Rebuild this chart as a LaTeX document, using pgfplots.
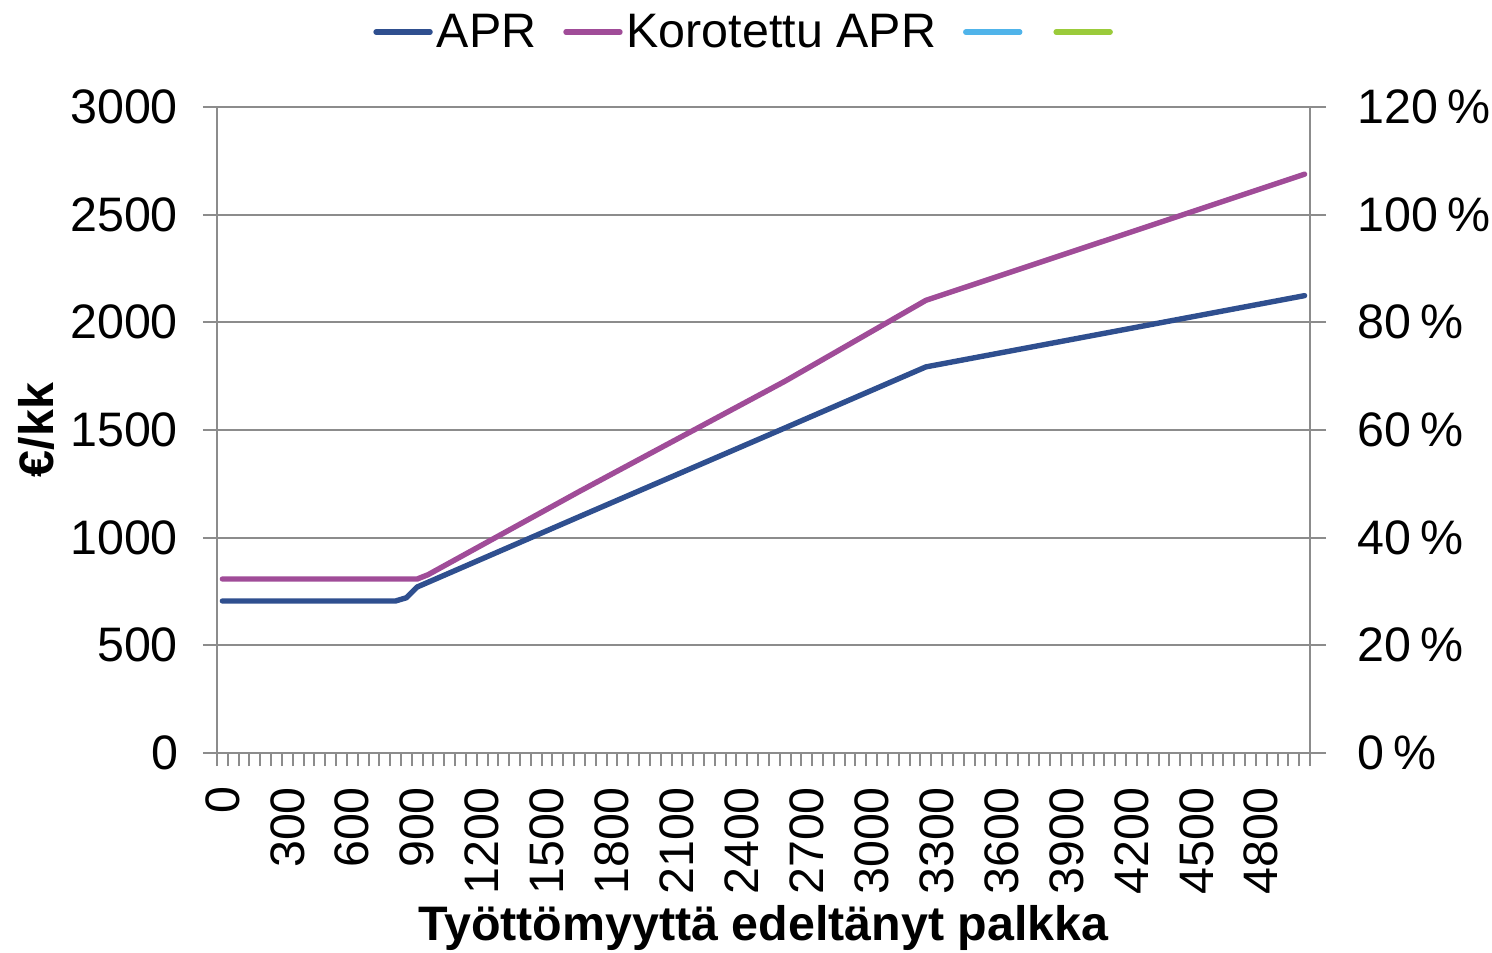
\documentclass[border=0pt]{standalone}
\usepackage{fontspec}
\setmainfont{Liberation Sans}
\usepackage{pgfplots}
\pgfplotsset{compat=1.18}
\definecolor{aprblue}{HTML}{2F4F8F}
\definecolor{korpurple}{HTML}{A04C98}
\definecolor{ltblue}{HTML}{50B4EA}
\definecolor{ltgreen}{HTML}{9BCB3B}
\definecolor{gridgray}{HTML}{8C8C8C}
\newcommand{\chartfont}{\fontsize{24.2}{29}\selectfont}
\newcommand{\pc}[1]{#1\kern0.2em\%}
\pgfplotsset{
  base/.style={scale only axis,width=546.5pt,height=323pt,
    at={(0pt,0pt)},anchor=south west,
    xmin=-25,xmax=5025,tick align=outside,
    axis line style={gridgray,line width=1pt},
    tick label style={font=\chartfont},
    /pgf/number format/assume math mode=true,
    /pgf/number format/1000 sep={}},
  series/.style={line width=2.7pt,line cap=round,line join=round}
}
\begin{document}
\begin{tikzpicture}
% page = 1492 x 952 px at 0.5pt per px, axis box from (217,107) to (1310,753) px
\useasboundingbox (-108.5pt,-99.5pt) rectangle (637.5pt,376.5pt);
\begin{axis}[base,
  ymin=0,ymax=3000,
  xtick={0,300,...,4800},
  minor xtick={-25,25,...,5025},
  major x tick style={draw=none},
  minor x tick style={draw=gridgray,line width=1pt},
  minor tick length=6.5pt,major tick length=7pt,
  xtick pos=bottom,ytick pos=left,
  ytick={0,500,...,3000},
  ytick style={gridgray,line width=1pt},
  ymajorgrids,grid style={gridgray,line width=1pt},
  xticklabel style={rotate=90,anchor=east},
  xticklabel shift=6.5pt,
  yticklabel shift=9pt,
  xlabel={\textbf{Työttömyyttä edeltänyt palkka}},
  xlabel style={font=\chartfont,inner sep=0pt,at={(axis description cs:0.5,-0.291)},anchor=base},
  ylabel={\textbf{€/kk}},
  ylabel style={font=\chartfont,inner sep=0pt,at={(axis description cs:-0.165,0.5)},anchor=center},
  legend style={at={(axis description cs:0.485,1.116)},anchor=center,
    draw=none,fill=none,font=\chartfont,legend columns=4,
    inner sep=0pt,
    nodes={inner xsep=2pt,inner ysep=0pt},
    /tikz/every even column/.append style={column sep=11.5pt},
    /tikz/every odd column/.append style={column sep=0pt}},
  legend image code/.code={\draw[#1,line width=2.7pt,line cap=round] (0pt,0pt) -- (27pt,0pt);},
]
\addplot[series,aprblue] coordinates {
  (0,706) (800,706) (850,721) (900,771) (1650,1098) (2600,1510) (3250,1793) (5000,2124)};
\addlegendentry{APR}
\addplot[series,korpurple] coordinates {
  (0,808) (900,808) (950,828) (1650,1215) (2600,1727) (3250,2102) (5000,2688)};
\addlegendentry{Korotettu APR}
\addlegendimage{ltblue}
\addlegendentry{}
\addlegendimage{ltgreen}
\addlegendentry{}
\end{axis}
\begin{axis}[base,
  ymin=0,ymax=120,
  axis x line=none,axis y line*=right,
  ytick={0,20,...,120},
  yticklabels={\pc{0},\pc{20},\pc{40},\pc{60},\pc{80},\pc{100},\pc{120}},
  major tick length=8pt,
  ytick style={gridgray,line width=1pt},
  yticklabel style={anchor=west,inner xsep=0pt},
  yticklabel shift=15.5pt,
]
\end{axis}
\end{tikzpicture}
\end{document}
